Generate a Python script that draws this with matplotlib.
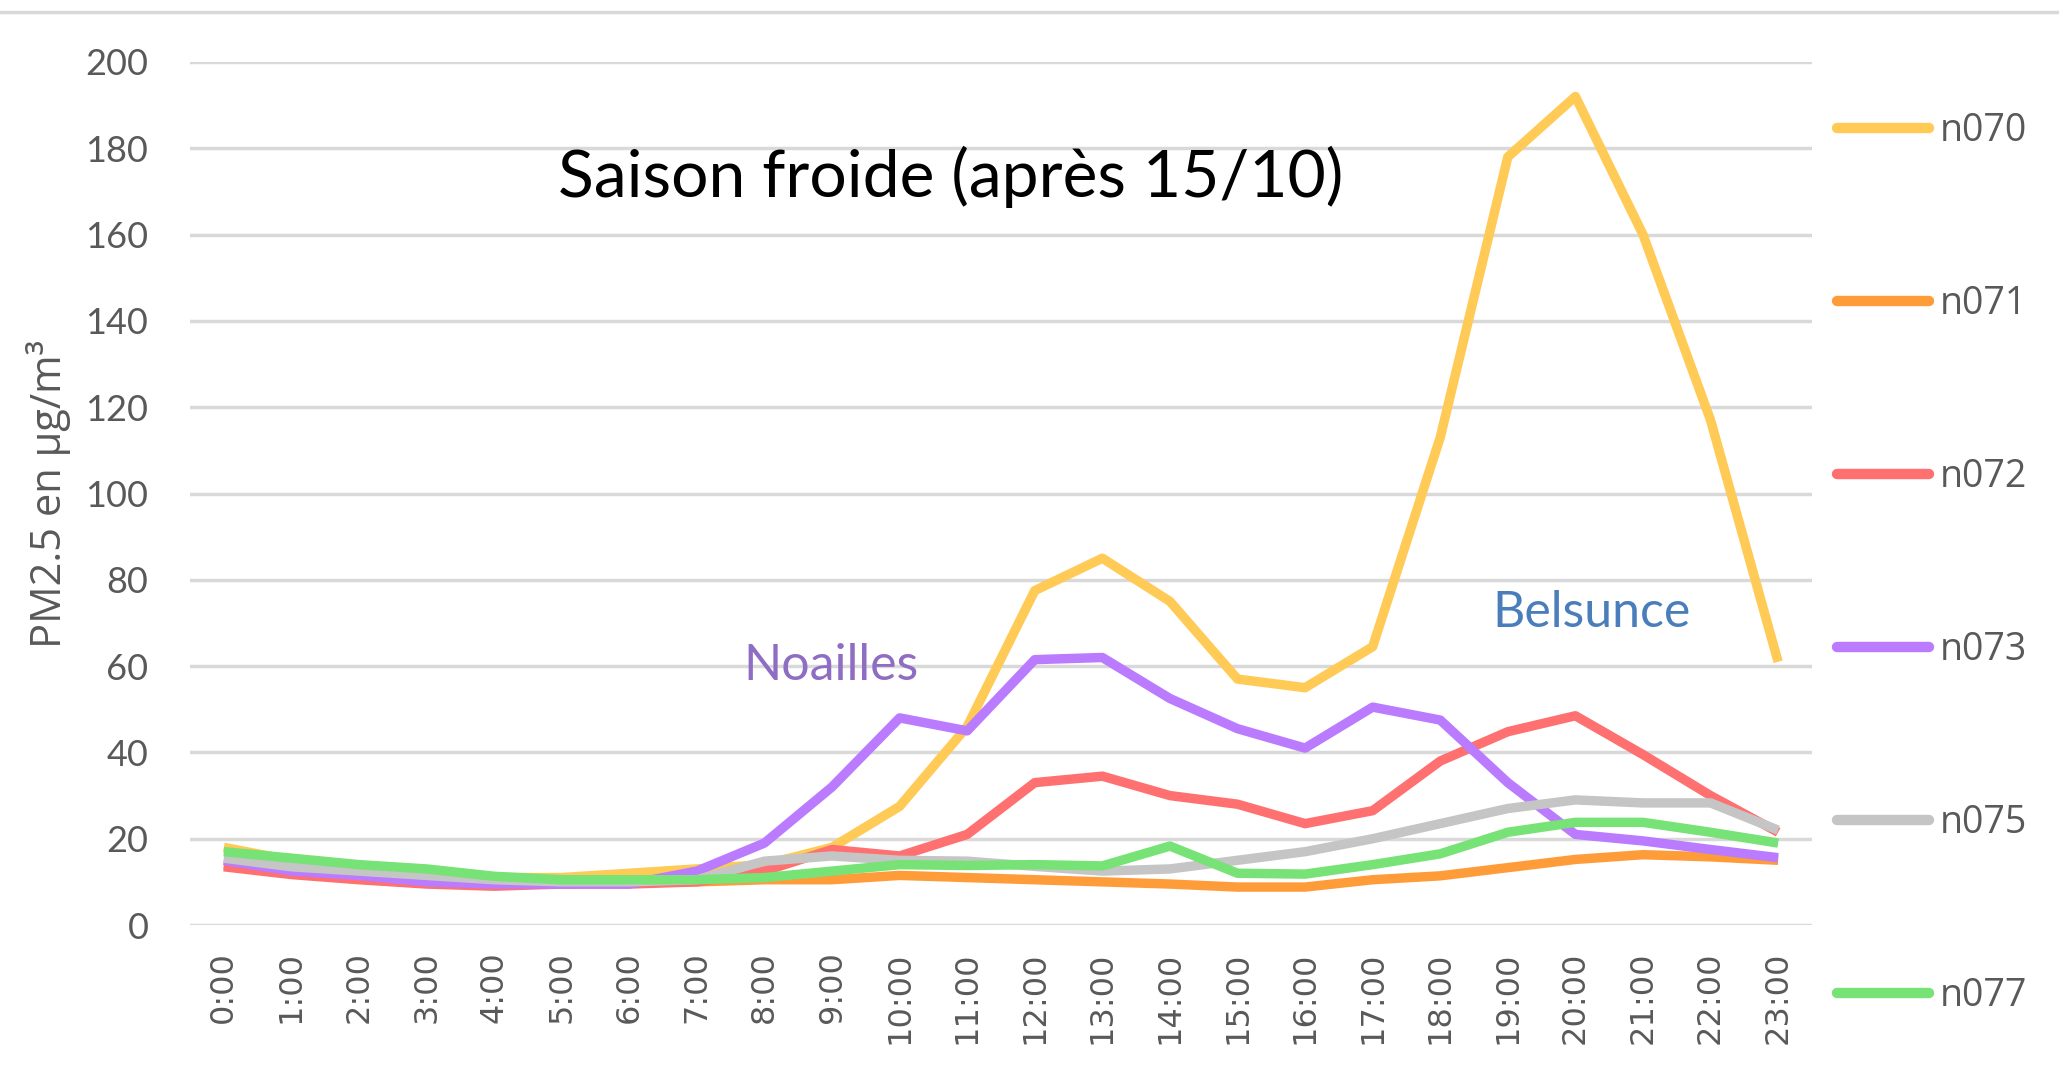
import matplotlib
matplotlib.use("Agg")
import matplotlib.pyplot as plt
from matplotlib.lines import Line2D

# Hourly PM2.5 averages, cold season (after 15/10)
hours = [f"{h}:00" for h in range(24)]

n070 = [18, 15, 13.5, 12.5, 11, 11, 12, 13, 14, 18, 27.5, 46,
        77.5, 85, 75, 57, 55, 64.5, 113, 178, 192, 160, 117, 61]
n071 = [14, 12, 11, 10, 9.5, 9.5, 10, 10, 10.5, 10.5, 11.5, 11,
        10.5, 10, 9.5, 8.8, 8.8, 10.5, 11.4, 13.3, 15.2, 16.3, 15.8, 15]
n072 = [13.5, 11.7, 10.5, 9.5, 9, 9.5, 9.5, 10, 12.5, 17.5, 16, 21,
        33, 34.5, 30, 28, 23.5, 26.5, 38, 44.8, 48.5, 39.5, 30, 21.5]
n073 = [15, 12.5, 11.5, 10, 9.5, 9.5, 9.5, 12.5, 19, 32, 48, 45,
        61.5, 62, 52.5, 45.5, 41, 50.5, 47.5, 33, 21, 19.5, 17.5, 15.6]
n075 = [15.5, 13.5, 12.5, 11.5, 10.5, 10, 10, 10.5, 14.8, 16, 15, 14.8,
        13.6, 12.5, 13, 15, 17, 20, 23.5, 27, 29, 28.3, 28.3, 22]
n077 = [17, 15.5, 14, 13, 11.3, 10.5, 10.5, 10.5, 11, 12.5, 14, 13.8,
        14, 13.7, 18.3, 12, 11.8, 14, 16.5, 21.5, 23.8, 23.8, 21.5, 19]

series = {"n070": n070, "n071": n071, "n072": n072,
          "n073": n073, "n075": n075, "n077": n077}
colors = {"n070": "#FFCA55", "n071": "#FF9C3A", "n072": "#FF7070",
          "n073": "#BA7BFF", "n075": "#C5C5C5", "n077": "#77E275"}

fig = plt.figure(figsize=(20.59, 10.74), dpi=100)
ax = fig.add_axes([0.0923, 0.1387, 0.7877, 0.8036])

x = range(len(hours))
for name, vals in series.items():
    ax.plot(x, vals, color=colors[name], lw=6.8, solid_joinstyle="round",
            solid_capstyle="butt", label=name)

ax.set_xlim(-0.5, len(hours) - 0.5)
ax.set_ylim(0, 200)
ax.set_yticks(range(0, 201, 20))
ax.set_xticks(list(x))
ax.set_xticklabels(hours, rotation=90, fontsize=23, color="#595959",
                   family="DejaVu Sans")
for lab in ax.get_yticklabels():
    lab.set_family("Lato")
    lab.set_fontsize(26)
    lab.set_color("#595959")
ax.tick_params(axis="x", length=0, pad=19)
ax.tick_params(axis="y", length=0, pad=30)
ax.grid(axis="y", color="#D9D9D9", lw=2.5)
ax.set_axisbelow(True)
for s in ax.spines.values():
    s.set_visible(False)

ax.set_ylabel("PM2.5 en µg/m³", fontsize=30, color="#595959",
              family="Open Sans", labelpad=10)

ax.text(0.469, 0.867, "Saison froide (après 15/10)", transform=ax.transAxes,
        ha="center", va="center", fontsize=47.5, family="Lato", color="black")
ax.text(0.395, 0.30, "Noailles", transform=ax.transAxes, ha="center",
        va="center", fontsize=36, family="Lato", color="#8F6DC3")
ax.text(0.864, 0.3615, "Belsunce", transform=ax.transAxes, ha="center",
        va="center", fontsize=36, family="Lato", color="#4A7EBB")

# legend on the right, one entry per band
handles = [Line2D([0], [0], color=colors[n], lw=7.5, solid_capstyle="round")
           for n in series]
leg = fig.legend(handles, list(series.keys()), loc="upper left",
                 bbox_to_anchor=(0.876, 0.927), frameon=False,
                 handlelength=2.45, handletextpad=0.27, labelspacing=3.60,
                 prop={"family": "Open Sans", "size": 27})
for t in leg.get_texts():
    t.set_color("#595959")

fig.add_artist(Line2D([0, 1], [0.989, 0.989], color="#D9D9D9", lw=2.5,
                      transform=fig.transFigure))

fig.savefig("out.png", dpi=100)
